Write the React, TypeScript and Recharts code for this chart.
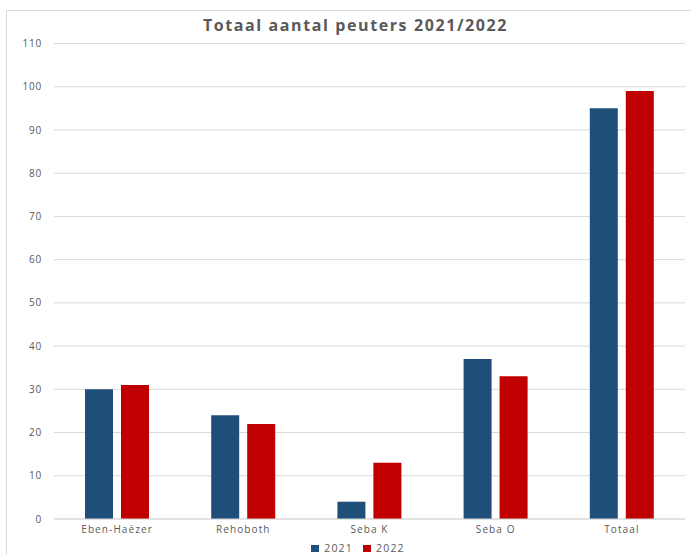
import React from "react";
import { BarChart, Bar, XAxis, YAxis, CartesianGrid } from "recharts";

const categories = ["Eben-Haëzer", "Rehoboth", "Seba K", "Seba O", "Totaal"];
const values2021 = [30, 24, 4, 37, 95];
const values2022 = [31, 22, 13, 33, 99];
const yTicks = [0, 10, 20, 30, 40, 50, 60, 70, 80, 90, 100, 110];
const seriesNames = ["2021", "2022"];
const colors = ["#1F4E79", "#C00000"];

const data = categories.map((c, i) => ({
  name: c,
  y2021: values2021[i],
  y2022: values2022[i],
}));

const fontFamily = "'Open Sans', 'Liberation Sans', sans-serif";

export default function App() {
  return (
    <div
      style={{
        position: "absolute",
        left: 0,
        top: 0,
        width: 691,
        height: 555,
        overflow: "hidden",
        background: "#fff",
        fontFamily,
      }}
    >
      <div
        style={{
          position: "absolute",
          left: 6,
          top: 10,
          width: 720,
          height: 600,
          border: "1px solid #d9d9d9",
        }}
      />
      <div
        style={{
          position: "absolute",
          left: 0,
          top: 14,
          width: 711,
          textAlign: "center",
          fontSize: 16,
          fontWeight: 700,
          color: "#595959",
          letterSpacing: 1.6,
        }}
      >
        Totaal aantal peuters 2021/2022
      </div>
      <div style={{ position: "absolute", left: 0, top: 0 }}>
        <BarChart
          width={691}
          height={555}
          data={data}
          margin={{ top: 43.5, right: 6, left: 0, bottom: 20 }}
          barSize={28}
          barGap={8}
        >
          <CartesianGrid vertical={false} stroke="#d9d9d9" strokeWidth={1} />
          <XAxis
            dataKey="name"
            height={16}
            tickLine={false}
            tickSize={0}
            tickMargin={7}
            axisLine={{ stroke: "#d9d9d9" }}
            tick={{ fill: "#595959", fontSize: 10, letterSpacing: 1.1, fontFamily }}
            interval={0}
          />
          <YAxis
            width={54}
            domain={[0, 110]}
            ticks={yTicks}
            tickLine={false}
            tickSize={0}
            tickMargin={12}
            axisLine={false}
            tick={{ fill: "#595959", fontSize: 10, letterSpacing: 0.8, fontFamily }}
          />
          <Bar dataKey="y2021" name={seriesNames[0]} fill={colors[0]} isAnimationActive={false} />
          <Bar dataKey="y2022" name={seriesNames[1]} fill={colors[1]} isAnimationActive={false} />
        </BarChart>
      </div>
      <div
        style={{
          position: "absolute",
          top: 541,
          left: 0,
          width: 716,
          display: "flex",
          justifyContent: "center",
          gap: 10,
          fontSize: 10.5,
          color: "#595959",
          letterSpacing: 1.2,
          lineHeight: "14px",
        }}
      >
        {seriesNames.map((n, i) => (
          <div key={n} style={{ display: "flex", alignItems: "center", gap: 5 }}>
            <span style={{ width: 8, height: 7, background: colors[i], display: "inline-block" }} />
            <span>{n}</span>
          </div>
        ))}
      </div>
    </div>
  );
}
